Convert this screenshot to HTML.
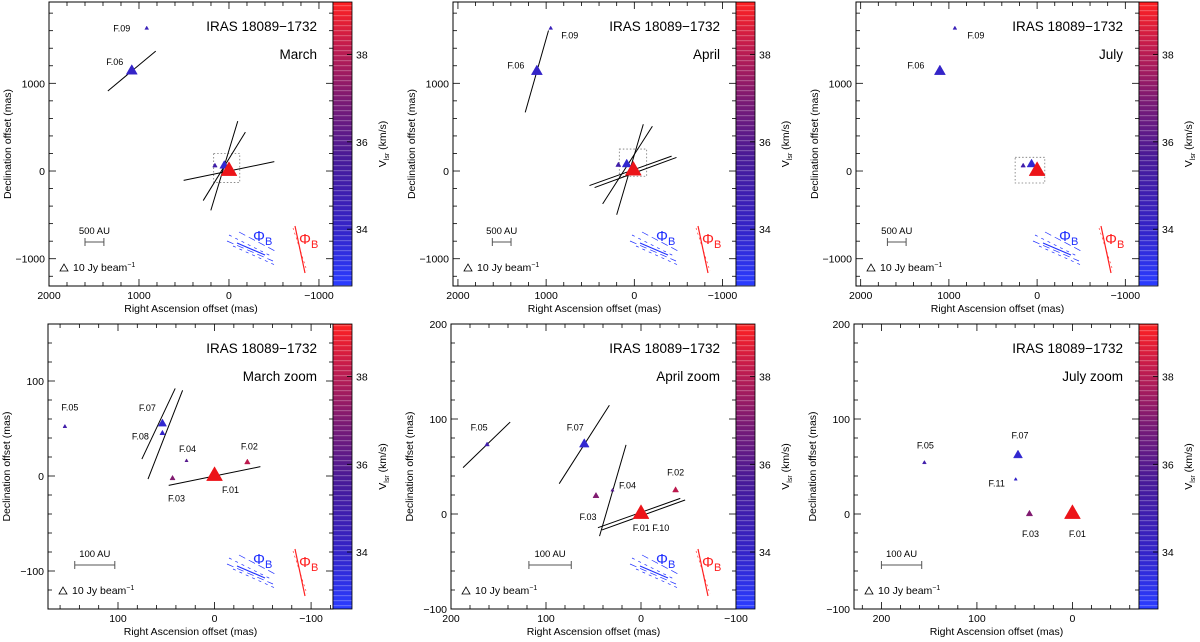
<!DOCTYPE html>
<html><head><meta charset="utf-8"><style>
html,body{margin:0;padding:0;background:#fff}
svg{display:block;font-family:"Liberation Sans",sans-serif}
</style></head><body>
<svg id="fig" width="1200" height="642" viewBox="0 0 1200 642" xmlns="http://www.w3.org/2000/svg">
<defs>
<linearGradient id="vgrad" x1="0" y1="1" x2="0" y2="0">
<stop offset="0" stop-color="#2a3cff"/><stop offset="0.2" stop-color="#3424c8"/><stop offset="0.45" stop-color="#481a98"/><stop offset="0.65" stop-color="#7a1a74"/><stop offset="0.85" stop-color="#c41c4c"/><stop offset="1" stop-color="#ff2020"/>
</linearGradient>
<pattern id="stripes" width="10" height="5" patternUnits="userSpaceOnUse"><rect x="0" y="0" width="10" height="1.2" fill="#fff" fill-opacity="0.25"/></pattern>
</defs>
</svg>
<script>
// ---- data: panel 1 (March) ----
const p1Names=['F.09','F.06','F.05','F.07','F.01'];
const p1RA=[914,1080,156,52,0];
const p1Dec=[1627,1140,60,60,0];
const p1Vel=[34.5,34,35,33.8,39.1];
const p1Flux=[1,25,2,15,60];
const p1VecRA=[1080,0,52,52];
const p1VecDec=[1140,0,53,60];
const p1VecPA=[-49.5,-78,-31,-16.4];
const p1VecLen=[700,1030,910,1060];
// ---- panel 2 (April) ----
const p2Names=['F.09','F.06','F.05','F.07','F.01'];
const p2RA=[948,1105,181,86,11];
const p2Dec=[1627,1135,68,76,5];
const p2Vel=[34.5,34,35,33.8,39.1];
const p2Flux=[1,25,3,15,60];
const p2VecRA=[1105,43,-14,77,49];
const p2VecDec=[1135,2,-17,68,17];
const p2VecPA=[-15.8,-70.2,-69.7,-32.5,-16.3];
const p2VecLen=[970,990,990,1050,1075];
// ---- panel 3 (July) ----
const p3Names=['F.09','F.06','F.05','F.07','F.01'];
const p3RA=[932,1102,158,63,0];
const p3Dec=[1627,1135,60,76,0];
const p3Vel=[34.5,34,35,33.8,39.1];
const p3Flux=[1,25,2,15,60];
// ---- panel 4 (March zoom) ----
const p4Names=['F.05','F.07','F.08','F.04','F.03','F.02','F.01'];
const p4RA=[155,54,54,29,43.5,-34,0];
const p4Dec=[52,55,45,16,-2.5,14.4,0];
const p4Vel=[35,33.8,34,36,37,38,39.1];
const p4Flux=[1,12,3,0.5,3,4,60];
const p4VecRA=[58,51,0];
const p4VecDec=[55,43.5,0];
const p4VecPA=[-24.9,-21,-78.3];
const p4VecLen=[82,100,97];
// ---- panel 5 (April zoom) ----
const p5Names=['F.05','F.07','F.04','F.03','F.02','F.01'];
const p5RA=[162,59.7,30,47.4,-36.4,0];
const p5Dec=[73,73.4,25,19,25,0];
const p5Vel=[35,33.8,36,37,38,39.1];
const p5Flux=[2,18,0.5,5,5,60];
const p5VecRA=[162.5,59.7,29.7,2,-2.7];
const p5VecDec=[72.8,73.2,24.7,1,-1];
const p5VecPA=[-46,-32.6,-16.2,-70.4,-70.2];
const p5VecLen=[69,98,100,92,93];
// ---- panel 6 (July zoom) ----
const p6Names=['F.05','F.07','F.11','F.03','F.01'];
const p6RA=[155,57,59.4,45,0];
const p6Dec=[54,61.8,36.5,0,0];
const p6Vel=[35,33.8,34,37,39.1];
const p6Flux=[1,15,0.4,6,60];
const cbTicks=[34,36,38];

const svg=document.getElementById('fig');
const NS='http://www.w3.org/2000/svg';
function mk(tag,attrs,parent){const e=document.createElementNS(NS,tag);for(const k in attrs)e.setAttribute(k,attrs[k]);(parent||svg).appendChild(e);return e;}
const stops=[[32.7,[42,60,255]],[34,[52,36,200]],[35.6,[72,26,152]],[36.9,[122,26,116]],[38.2,[200,24,70]],[39.2,[240,20,20]]];
function vcol(v){if(v<=stops[0][0])return 'rgb('+stops[0][1]+')';for(let i=1;i<stops.length;i++){if(v<=stops[i][0]){const t=(v-stops[i-1][0])/(stops[i][0]-stops[i-1][0]);const a=stops[i-1][1],b=stops[i][1];return 'rgb('+a.map((c,j)=>Math.round(c+(b[j]-c)*t)).join(',')+')';}}return 'rgb(240,20,20)';}
function fmt(v){return v<0?'\u2212'+(-v):String(v);}

function panel(c){
  const g=mk('g',{});
  
  
  const W=c.xr-c.xl,H=c.yb-c.yt;
  const X=ra=>c.xl+(c.raL-ra)/(c.raL-c.raR)*W;
  const Y=d=>c.yt+(c.decT-d)/(c.decT-c.decB)*H;
  const box=mk('rect',{x:c.xl,y:c.yt,width:W,height:H,fill:'none',stroke:'#000','stroke-width':1},g);
  
  const lo=Math.min(c.raL,c.raR),hi=Math.max(c.raL,c.raR);
  for(let v=Math.ceil(lo/c.xMinor)*c.xMinor;v<=hi;v+=c.xMinor){
    const maj=Math.abs(v%c.xMajor)<1e-6,len=maj?7:4,x=X(v);
    mk('line',{x1:x,y1:c.yb,x2:x,y2:c.yb-len,stroke:'#000','stroke-width':0.8},g);
    mk('line',{x1:x,y1:c.yt,x2:x,y2:c.yt+len,stroke:'#000','stroke-width':0.8},g);
    if(maj){const t=mk('text',{x:x,y:c.yb+13,'font-size':10.5,'text-anchor':'middle'},g);t.textContent=fmt(v);}
  }
  for(let v=Math.ceil(c.decB/c.yMinor)*c.yMinor;v<=c.decT;v+=c.yMinor){
    const maj=Math.abs(v%c.yMajor)<1e-6,len=maj?7:4,y=Y(v);
    mk('line',{x1:c.xl,y1:y,x2:c.xl+len,y2:y,stroke:'#000','stroke-width':0.8},g);
    mk('line',{x1:c.xr,y1:y,x2:c.xr-len,y2:y,stroke:'#000','stroke-width':0.8},g);
    if(maj){const t=mk('text',{x:c.xl-4,y:y+4,'font-size':10.5,'text-anchor':'end'},g);t.textContent=fmt(v);}
  }
  let t=mk('text',{x:(c.xl+c.xr)/2,y:c.yb+26,'font-size':10.5,'text-anchor':'middle'},g);t.textContent='Right Ascension offset (mas)';
  
  t=mk('text',{x:0,y:0,'font-size':10.5,'text-anchor':'middle',transform:`translate(${c.xl-38},${(c.yt+c.yb)/2}) rotate(-90)`},g);t.textContent='Declination offset (mas)';
  
  const cb=mk('rect',{x:c.xr,y:c.yt,width:c.cbw,height:H,fill:'url(#vgrad)'},g);
  
  mk('rect',{x:c.xr,y:c.yt,width:c.cbw,height:H,fill:'url(#stripes)'},g);
  mk('rect',{x:c.xr,y:c.yt,width:c.cbw,height:H,fill:'none',stroke:'#000','stroke-width':0.8},g);
  const VY=v=>c.yt+(39.2-v)/(39.2-32.7)*H;
  cbTicks.forEach(v=>{const y=VY(v);
    mk('line',{x1:c.xr+c.cbw,y1:y,x2:c.xr+c.cbw-5,y2:y,stroke:'#000','stroke-width':0.8},g);
    const tt=mk('text',{x:c.xr+c.cbw+4,y:y+4,'font-size':10.5},g);tt.textContent=v;
    });
  t=mk('text',{x:0,y:0,'font-size':10.5,'text-anchor':'middle',transform:`translate(${c.xr+c.cbw+34},${(c.yt+c.yb)/2}) rotate(-90)`},g);
  t.innerHTML='V<tspan font-size="7" dy="3">lsr</tspan><tspan dy="-3"> (km/s)</tspan>';
  
  t=mk('text',{x:c.xr-16,y:c.yt+29,'font-size':13.5,'text-anchor':'end'},g);t.textContent='IRAS 18089\u22121732';
  
  t=mk('text',{x:c.xr-16,y:c.yt+57,'font-size':13.5,'text-anchor':'end'},g);t.textContent=c.sub;
  
  if(c.zbox){const z=c.zbox;const r=mk('rect',{x:X(z[0]),y:Y(z[2]),width:X(z[1])-X(z[0]),height:Y(z[3])-Y(z[2]),fill:'none',stroke:'#777','stroke-width':0.8,'stroke-dasharray':'1.5,2'},g);
    }
  const sb=c.sbar,sy=c.yb-44;
  const sg=mk('g',{stroke:'#555','stroke-width':1},g);
  
  mk('line',{x1:X(sb[0]),y1:sy,x2:X(sb[1]),y2:sy},sg);
  mk('line',{x1:X(sb[0]),y1:sy-4,x2:X(sb[0]),y2:sy+4},sg);
  mk('line',{x1:X(sb[1]),y1:sy-4,x2:X(sb[1]),y2:sy+4},sg);
  t=mk('text',{x:(X(sb[0])+X(sb[1]))/2,y:sy-8,'font-size':9.5,'text-anchor':'middle'},g);t.textContent=sb[2];
  
  const bx=c.xl+11,by=c.yb-15;
  const bt=mk('polygon',{points:`${bx},${by} ${bx+8},${by} ${bx+4},${by-7}`,fill:'none',stroke:'#000','stroke-width':0.8},g);
  
  t=mk('text',{x:bx+13,y:by,'font-size':10.5},g);t.innerHTML='10 Jy beam<tspan font-size="7" dy="-4">\u22121</tspan>';
  
  if(c.vRA){for(let i=0;i<c.vRA.length;i++){
    const pa=c.vPA[i]*Math.PI/180,h=c.vLen[i]/2;
    const dr=h*Math.sin(pa),dd=h*Math.cos(pa);
    const l=mk('line',{x1:X(c.vRA[i]-dr),y1:Y(c.vDec[i]-dd),x2:X(c.vRA[i]+dr),y2:Y(c.vDec[i]+dd),stroke:'#000','stroke-width':1},g);
    }}
  for(let i=0;i<c.names.length;i++){
    const s=2+1.8*Math.sqrt(c.flux[i]),x=X(c.ra[i]),y=Y(c.dec[i]);
    const p=mk('polygon',{points:`${x-s/2},${y+s*0.29} ${x+s/2},${y+s*0.29} ${x},${y-s*0.58}`,fill:vcol(c.vel[i]),stroke:vcol(c.vel[i]),'stroke-width':0.5},g);
    
    
    const lo=c.lab[i];
    if(lo){const lt=mk('text',{x:x+lo[0],y:y+lo[1],'font-size':9,'text-anchor':'middle'},g);lt.textContent=lo[2]||c.names[i];
      }
  }
  if(c.phi){const bx0=c.xr,by0=c.yb;
    const bg=mk('g',{stroke:'#2030ff','stroke-width':0.7},g);
    
    [[-104,-51,-62,-30],[-106,-45,-60,-25],[-100,-40,-58,-21],[-94,-54,-56,-34]].forEach((a,k)=>{
      mk('line',{x1:bx0+a[0],y1:by0+a[1],x2:bx0+a[2],y2:by0+a[3],'stroke-dasharray':k%2?'7,4':'3,4'},bg);});
    mk('line',{x1:bx0-96,y1:by0-43,x2:bx0-68,y2:by0-31,'stroke-width':1.1},bg);
    let tb=mk('text',{x:bx0-80,y:by0-45,'font-size':15,fill:'#2030ff'},g);tb.innerHTML='\u03A6<tspan font-size="11" dy="4">B</tspan>';
    
    const rg=mk('g',{stroke:'#ff2020','stroke-width':1.2},g);
    
    mk('line',{x1:bx0-38,y1:by0-60,x2:bx0-28,y2:by0-13},rg);
    mk('line',{x1:bx0-40,y1:by0-58,x2:bx0-26,y2:by0-15,'stroke-width':0.6,'stroke-dasharray':'2,3'},rg);
    let tr=mk('text',{x:bx0-34,y:by0-42,'font-size':15,fill:'#ff2020'},g);tr.innerHTML='\u03A6<tspan font-size="11" dy="4">B</tspan>';
    }
}

const big={xMinor:200,xMajor:1000,yMinor:200,yMajor:1000,cbw:19,yt:2,yb:286,decT:1927,decB:-1311,phi:true};
const zm={xMinor:20,xMajor:100,yMinor:20,yMajor:100,cbw:19,yt:324,yb:609};
panel(Object.assign({},big,{name:'panel-march',xl:49,xr:333,raL:2000,raR:-1156,sub:'March',
  names:p1Names,ra:p1RA,dec:p1Dec,vel:p1Vel,flux:p1Flux,vRA:p1VecRA,vDec:p1VecDec,vPA:p1VecPA,vLen:p1VecLen,
  lab:[[-25,3],[-17,-6],null,null,null],zbox:[170,-120,200,-130],sbar:[1600,1390,'500 AU']}));
panel(Object.assign({},big,{name:'panel-april',xl:453,xr:736,raL:2056,raR:-1153,sub:'April',
  names:p2Names,ra:p2RA,dec:p2Dec,vel:p2Vel,flux:p2Flux,vRA:p2VecRA,vDec:p2VecDec,vPA:p2VecPA,vLen:p2VecLen,
  lab:[[19,10],[-21,-3],null,null,null],zbox:[170,-140,250,-60],sbar:[1610,1398,'500 AU']}));
panel(Object.assign({},big,{name:'panel-july',xl:856,xr:1139,raL:2053,raR:-1155,sub:'July',
  names:p3Names,ra:p3RA,dec:p3Dec,vel:p3Vel,flux:p3Flux,
  lab:[[21,10],[-24,-3],null,null,null],zbox:[249,-87,156,-137],sbar:[1697,1485,'500 AU']}));
panel(Object.assign({},zm,{name:'panel-march-zoom',xl:48,xr:333,raL:172.5,raR:-122.7,decT:160,decB:-140,sub:'March zoom',phi:true,
  names:p4Names,ra:p4RA,dec:p4Dec,vel:p4Vel,flux:p4Flux,vRA:p4VecRA,vDec:p4VecDec,vPA:p4VecPA,vLen:p4VecLen,
  lab:[[5,-16],[-15,-13],[-22,6],[1,-9],[4,23],[2,-13],[16,17]],sbar:[144.8,103.3,'100 AU']}));
panel(Object.assign({},zm,{name:'panel-april-zoom',xl:451,xr:736,raL:200,raR:-100,decT:200,decB:-100,sub:'April zoom',phi:true,
  names:p5Names,ra:p5RA,dec:p5Dec,vel:p5Vel,flux:p5Flux,vRA:p5VecRA,vDec:p5VecDec,vPA:p5VecPA,vLen:p5VecLen,
  lab:[[-8,-14],[-9,-14],[15,-2],[-8,24],[0,-15],[10,17,'F.01 F.10']],sbar:[118,73.4,'100 AU']}));
panel(Object.assign({},zm,{name:'panel-july-zoom',xl:854,xr:1139,raL:228.7,raR:-69.7,decT:200,decB:-100,sub:'July zoom',phi:false,
  names:p6Names,ra:p6RA,dec:p6Dec,vel:p6Vel,flux:p6Flux,
  lab:[[1,-14],[2,-17],[-19,7],[1,23],[5,23]],sbar:[200,157.8,'100 AU']}));
</script>
</body></html>
